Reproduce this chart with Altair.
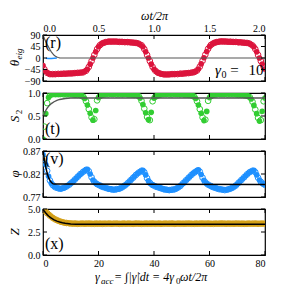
import altair as alt
import pandas as pd

# sampling grid of gamma_acc (0 .. 80, every 0.5)
GAMMA = [i * 0.5 for i in range(161)]

THETA = [-30, -44, -53, -58, -61, -63, -64, -63, -64, -63, -63, -62, -63, -62, -62, -61, -62, -61, -61, -60, -61, -60, -60, -59, -59, -58, -58, -57, -57,
         -56, -53, -50, -44, -35, -24, -12, 0, 12, 24, 35, 44, 50, 55, 58, 60, 62, 63,
         64, 65, 64, 65, 64, 65, 64, 64, 63, 64, 63, 63, 62, 63, 62, 62, 61, 61, 60, 60, 59, 58,
         56, 53, 50, 44, 35, 24, 12, 0, -12, -24, -35, -44, -50, -55, -58, -60, -62, -63,
         -64, -65, -64, -65, -64, -64, -63, -64, -63, -62, -63, -62, -61, -62, -61, -60, -60, -59, -59, -58, -57, -57,
         -55, -53, -49, -43, -34, -23, -11, 1, 13, 25, 36, 45, 51, 55, 58, 61, 62, 63,
         64, 65, 65, 64, 65, 64, 64, 63, 64, 63, 63, 62, 63, 62, 61, 62, 61, 60, 60, 59, 59, 58,
         56, 53, 49, 44, 35, 24, 12, 0, -12, -24, -34, -43]

S2 = [0.0, 0.27, 0.55, 0.78, 0.9, 0.95, 0.97, 0.98, 0.97, 0.98, 0.97, 0.98, 0.97, 0.98, 0.98, 0.97, 0.98, 0.97, 0.98, 0.97, 0.98, 0.97, 0.97, 0.96, 0.97, 0.96, 0.96, 0.95, 0.94,
      0.92, 0.88, 0.82, 0.74, 0.65, 0.56, 0.47, 0.41, 0.43, 0.62, 0.84, 0.9, 0.93, 0.95,
      0.96, 0.97, 0.97, 0.98, 0.97, 0.98, 0.98, 0.97, 0.98, 0.98, 0.97, 0.98, 0.97, 0.98, 0.97, 0.97, 0.98, 0.97, 0.97, 0.96, 0.97, 0.96, 0.96, 0.95, 0.96, 0.95, 0.93,
      0.89, 0.83, 0.75, 0.66, 0.57, 0.48, 0.42, 0.41, 0.58, 0.82, 0.89, 0.92, 0.94,
      0.95, 0.96, 0.97, 0.97, 0.98, 0.97, 0.98, 0.98, 0.97, 0.98, 0.97, 0.98, 0.98, 0.97, 0.98, 0.97, 0.97, 0.98, 0.97, 0.96, 0.97, 0.96, 0.96, 0.95, 0.95, 0.94, 0.92,
      0.88, 0.82, 0.74, 0.65, 0.56, 0.47, 0.4, 0.42, 0.6, 0.83, 0.9, 0.93, 0.95,
      0.96, 0.97, 0.97, 0.98, 0.98, 0.97, 0.98, 0.97, 0.98, 0.98, 0.97, 0.98, 0.97, 0.98, 0.97, 0.98, 0.97, 0.97, 0.96, 0.97, 0.96, 0.96, 0.95, 0.95, 0.94, 0.93, 0.91,
      0.87, 0.81, 0.73, 0.64, 0.55, 0.46, 0.39, 0.41, 0.6, 0.82, 0.89]

PHI = [0.862, 0.853, 0.84, 0.827, 0.815, 0.806, 0.8, 0.796, 0.793, 0.791, 0.79, 0.789, 0.788, 0.788, 0.789, 0.79, 0.791,
       0.793, 0.795, 0.797, 0.8, 0.802, 0.805, 0.808, 0.811, 0.814, 0.817, 0.82, 0.822, 0.825, 0.827, 0.829, 0.83,
       0.826, 0.82, 0.813, 0.807, 0.803, 0.8,
       0.798, 0.796, 0.795, 0.793, 0.792, 0.791, 0.79, 0.789, 0.788, 0.787, 0.787, 0.786, 0.786, 0.786, 0.787, 0.787, 0.788, 0.789,
       0.791, 0.793, 0.795, 0.797, 0.8, 0.803, 0.806, 0.809, 0.812, 0.815, 0.818, 0.821, 0.823, 0.825, 0.827, 0.828,
       0.824, 0.818, 0.811, 0.805, 0.801, 0.798,
       0.796, 0.795, 0.793, 0.792, 0.791, 0.79, 0.789, 0.788, 0.787, 0.786, 0.786, 0.785, 0.785, 0.785, 0.786, 0.786, 0.787, 0.788,
       0.79, 0.792, 0.794, 0.797, 0.8, 0.803, 0.806, 0.809, 0.812, 0.815, 0.818, 0.821, 0.823, 0.825, 0.827, 0.829,
       0.825, 0.819, 0.812, 0.806, 0.802, 0.799,
       0.797, 0.795, 0.794, 0.792, 0.791, 0.79, 0.789, 0.788, 0.787, 0.787, 0.786, 0.786, 0.785, 0.786, 0.786, 0.787, 0.788, 0.789,
       0.791, 0.793, 0.795, 0.798, 0.801, 0.804, 0.807, 0.81, 0.813, 0.816, 0.819, 0.822, 0.824, 0.826, 0.827, 0.828,
       0.824, 0.818, 0.812, 0.807, 0.803, 0.8, 0.798, 0.796]

ZV = [5.0, 4.85, 4.7, 4.55, 4.42, 4.28, 4.15, 4.04, 3.94, 3.86, 3.79, 3.72, 3.66, 3.61, 3.57, 3.53, 3.5, 3.48, 3.46, 3.44, 3.43,
      3.42, 3.4, 3.43, 3.41, 3.39, 3.42, 3.4, 3.44, 3.41, 3.39,
      3.42, 3.4, 3.43, 3.41, 3.4, 3.42, 3.39, 3.43, 3.41, 3.4,
      3.42, 3.41, 3.39, 3.43, 3.4, 3.42, 3.41, 3.44, 3.4, 3.39,
      3.42, 3.4, 3.43, 3.41, 3.39, 3.42, 3.4, 3.43, 3.41, 3.4,
      3.41, 3.43, 3.4, 3.42, 3.39, 3.41, 3.43, 3.4, 3.42, 3.41,
      3.39, 3.42, 3.4, 3.43, 3.41, 3.4, 3.42, 3.39, 3.43, 3.41,
      3.4, 3.42, 3.41, 3.43, 3.39, 3.42, 3.4, 3.44, 3.41, 3.4,
      3.42, 3.4, 3.43, 3.41, 3.39, 3.42, 3.41, 3.43, 3.4, 3.42,
      3.41, 3.39, 3.42, 3.4, 3.43, 3.41, 3.4, 3.42, 3.39, 3.43,
      3.41, 3.4, 3.42, 3.41, 3.43, 3.39, 3.42, 3.4, 3.43, 3.41,
      3.4, 3.42, 3.39, 3.43, 3.41, 3.4, 3.42, 3.41, 3.43, 3.4,
      3.42, 3.39, 3.41, 3.43, 3.4, 3.42, 3.41, 3.39, 3.43, 3.4,
      3.42, 3.41, 3.4, 3.43, 3.39, 3.42, 3.4, 3.43, 3.41, 3.4,
      3.42, 3.39, 3.43, 3.41, 3.4, 3.42, 3.41, 3.43, 3.4, 3.42]

R_LINE_X = [0, 0.5, 1, 1.5, 2, 2.5, 3, 3.5, 4, 4.5, 5, 5.5, 6, 80]
R_LINE_Y = [90, 76, 64, 53, 43, 33, 24, 17, 11, 7, 4, 2, 0.5, 0]
R_BLUE_X = [1, 2, 3, 4, 5]
R_BLUE_Y = [-1, -2, -2, -1, 0]
T_LINE_X = [0, 0.5, 1, 1.5, 2, 3, 4, 5, 6, 7, 8, 9, 10, 80]
T_LINE_Y = [0.5, 0.56, 0.62, 0.67, 0.71, 0.77, 0.81, 0.84, 0.86, 0.87, 0.88, 0.885, 0.89, 0.89]
V_LINE_X = [0, 0.5, 1, 1.5, 2, 2.5, 3, 3.5, 4, 80]
V_LINE_Y = [0.87, 0.852, 0.835, 0.822, 0.812, 0.806, 0.802, 0.799, 0.798, 0.797]
Z_LINE_X = [0, 0.5, 1, 1.5, 2, 2.5, 3, 4, 5, 6, 7, 8, 10, 12, 80]
Z_LINE_Y = [4.95, 4.75, 4.56, 4.39, 4.24, 4.11, 4.0, 3.82, 3.68, 3.58, 3.5, 3.45, 3.38, 3.35, 3.35]

X_TICKS = [0, 20, 40, 60, 80]
TOP_TICKS = [0.0, 0.5, 1.0, 1.5, 2.0]

W = 222
H = 46
TK = 4
MS = 32
FONT = "Liberation Serif"
RED = "#DC143C"
GREEN = "#32CD32"
BLUE = "#1E90FF"
GOLD = "#D4A017"


def xscale():
    return alt.Scale(domain=[0, 80], nice=False, zero=False)


def txt(s, x, y, size=12, italic=False, angle=0, align="left", baseline="alphabetic"):
    return alt.Chart(pd.DataFrame({"t": [s]})).mark_text(
        align=align, baseline=baseline, font=FONT, fontSize=size,
        fontStyle="italic" if italic else "normal", angle=angle, color="black"
    ).encode(x=alt.value(x), y=alt.value(y), text="t:N")


def panel_layers(vals, color, ydom, yticks, yfmt, lx, ly, lcolor, lwidth, bottom_labels):
    df = pd.DataFrame({"g": GAMMA, "v": vals})
    dff = df.iloc[0::2]
    dfo = df.iloc[1::2]
    ys = alt.Scale(domain=ydom, nice=False, zero=False)
    if bottom_labels:
        xa = alt.Axis(values=X_TICKS, ticks=False, domain=False, labelPadding=3, title=None, grid=False)
    else:
        xa = None
    ya = alt.Axis(values=yticks, format=yfmt, ticks=False, domain=False, labelPadding=3, title=None, grid=False)

    def X(f="g"):
        return alt.X(f + ":Q", scale=xscale(), axis=xa)

    def Y(f="v"):
        return alt.Y(f + ":Q", scale=ys, axis=ya)

    filled = alt.Chart(dff).mark_point(filled=True, size=MS, color=color, opacity=1, clip=True).encode(x=X(), y=Y())
    opened = alt.Chart(dfo).mark_point(filled=False, size=MS, color=color, strokeWidth=1, opacity=1,
                                       clip=True).encode(x=X(), y=Y())
    line = alt.Chart(pd.DataFrame({"g": lx, "v": ly})).mark_line(color=lcolor, strokeWidth=lwidth).encode(
        x=X(), y=Y())
    xt = pd.DataFrame({"g": X_TICKS})
    yt = pd.DataFrame({"v": yticks})
    tb = alt.Chart(xt).mark_rule(color="black", strokeWidth=1).encode(
        x=X(), y=alt.value(H - TK), y2=alt.value(H))
    tt = alt.Chart(xt).mark_rule(color="black", strokeWidth=1).encode(
        x=X(), y=alt.value(0), y2=alt.value(TK))
    tl = alt.Chart(yt).mark_rule(color="black", strokeWidth=1).encode(
        y=Y(), x=alt.value(0), x2=alt.value(TK))
    tr = alt.Chart(yt).mark_rule(color="black", strokeWidth=1).encode(
        y=Y(), x=alt.value(W - TK), x2=alt.value(W))
    return [filled, opened, line, tb, tt, tl, tr], ys, ya


# ---- panel (r)
layers, ys_r, ya_r = panel_layers(THETA, RED, [-90, 90], [-90, -45, 0, 45, 90], "d",
                                  R_LINE_X, R_LINE_Y, "#555555", 1.2, False)
blue = alt.Chart(pd.DataFrame({"g": R_BLUE_X, "v": R_BLUE_Y})).mark_line(color=BLUE, strokeWidth=1.5).encode(
    x=alt.X("g:Q", scale=xscale(), axis=None), y=alt.Y("v:Q", scale=ys_r, axis=ya_r))
top = alt.Chart(pd.DataFrame({"w": [0.0, 2.0]})).mark_point(opacity=0).encode(
    x=alt.X("w:Q", scale=alt.Scale(domain=[0, 2], nice=False, zero=False),
            axis=alt.Axis(orient="top", values=TOP_TICKS, format=".1f", ticks=False, domain=False,
                          labelPadding=2, grid=False, title="ωt/2π", titleFontStyle="italic",
                          titleFontSize=12, titlePadding=1)),
    y=alt.value(0))
pr = alt.layer(
    *layers[:2], blue, *layers[2:], top,
    txt("(r)", 2, 13, 16),
    txt("γ", 172, 40, 15, True),
    txt("0", 178.5, 43, 10),
    txt("=", 191.5, 40, 15, align="center"),
    txt("10", 205.5, 40, 15),
    txt("θ", -28, H / 2 + 5, 13, True, 270, "center", "middle"),
    txt("eig", -24, H / 2 - 4, 9, True, 270, "center", "middle"),
).resolve_scale(x="independent").properties(width=W, height=H)

# ---- panel (t)
layers, _, _ = panel_layers(S2, GREEN, [0, 1], [0.0, 0.5, 1.0], ".1f",
                            T_LINE_X, T_LINE_Y, "#555555", 1.4, False)
pt = alt.layer(
    *layers,
    txt("(t)", 2, H - 5, 16),
    txt("S", -28, H / 2 + 3, 13, True, 270, "center", "middle"),
    txt("2", -24, H / 2 - 4, 9, False, 270, "center", "middle"),
).properties(width=W, height=H)

# ---- panel (v)
layers, _, _ = panel_layers(PHI, BLUE, [0.77, 0.87], [0.77, 0.82, 0.87], ".2f",
                            V_LINE_X, V_LINE_Y, "black", 1.5, False)
pv = alt.layer(
    *layers,
    txt("(v)", 2, 13, 16),
    txt("φ", -28, H / 2, 13, True, 270, "center", "middle"),
).properties(width=W, height=H)

# ---- panel (x)
layers, _, _ = panel_layers(ZV, GOLD, [0, 5], [0.0, 2.5, 5.0], ".1f",
                            Z_LINE_X, Z_LINE_Y, "black", 1.5, True)
px = alt.layer(
    *layers,
    txt("(x)", 2, H - 6, 16),
    txt("Z", -28, H / 2, 13, True, 270, "center", "middle"),
    txt("γ", 52, H + 26, 12, True),
    txt("acc", 58, H + 29, 9, True),
    txt("= ∫|γ̇|dt = 4γ", 71, H + 26, 12, True),
    txt("0", 133, H + 29, 9),
    txt("ωt/2π", 137, H + 26, 12, True),
).properties(width=W, height=H)

chart = alt.vconcat(pr, pt, pv, px, spacing=12, bounds="flush", padding=0).configure_view(
    stroke="black", strokeWidth=1.2
).configure_axis(
    labelFont=FONT, labelFontSize=10, labelColor="black", tickColor="black", tickWidth=1,
    titleFont=FONT, titleColor="black", titleFontWeight="normal", minExtent=0
)

chart.save("out.html", embed_options={"renderer": "svg", "actions": False})
